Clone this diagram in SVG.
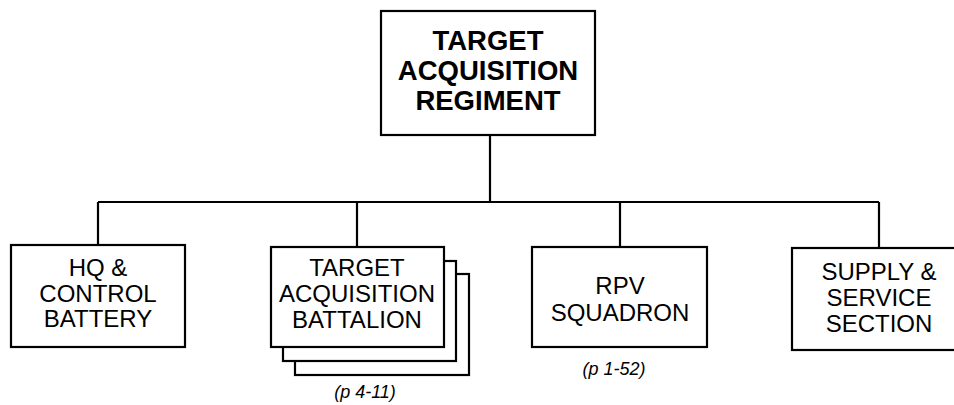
<svg xmlns="http://www.w3.org/2000/svg" width="954" height="405" viewBox="0 0 954 405">
<style>
  .box { fill: #ffffff; stroke: #000000; stroke-width: 2.2; }
  .conn { fill: none; stroke: #000000; stroke-width: 2.2; }
  .t { font-family: "Liberation Sans", Arial, sans-serif; font-size: 24px; fill: #000000; text-anchor: middle; }
  .tb { font-family: "Liberation Sans", Arial, sans-serif; font-size: 27.5px; font-weight: bold; fill: #000000; text-anchor: middle; }
  .ref { font-family: "Liberation Sans", Arial, sans-serif; font-size: 18px; font-style: italic; fill: #000000; text-anchor: middle; }
</style>
<rect width="954" height="405" fill="#ffffff"/>
<g id="connectors">
  <path class="conn" d="M490,135 V202 M98,202 H879 M98,202 V245 M357,202 V247 M620,202 V247 M879,202 V248"/>
</g>
<g id="regiment">
  <rect class="box" x="381" y="11" width="214" height="124"/>
  <text class="tb" x="488" y="50">TARGET</text>
  <text class="tb" x="488" y="80">ACQUISITION</text>
  <text class="tb" x="488" y="110">REGIMENT</text>
</g>
<g id="hq">
  <rect class="box" x="11" y="245" width="174" height="102"/>
  <text class="t" x="98" y="276">HQ &amp;</text>
  <text class="t" x="98" y="302">CONTROL</text>
  <text class="t" x="98" y="327">BATTERY</text>
</g>
<g id="battalion">
  <rect class="box" x="295" y="274" width="174" height="101"/>
  <rect class="box" x="283" y="261" width="173" height="100"/>
  <rect class="box" x="271" y="247" width="173" height="100"/>
  <text class="t" x="357" y="276">TARGET</text>
  <text class="t" x="357" y="302">ACQUISITION</text>
  <text class="t" x="357" y="328">BATTALION</text>
  <text class="ref" x="365" y="398">(p 4-11)</text>
</g>
<g id="rpv">
  <rect class="box" x="532" y="247" width="175" height="100"/>
  <text class="t" x="620" y="294">RPV</text>
  <text class="t" x="620" y="321">SQUADRON</text>
  <text class="ref" x="614" y="375">(p 1-52)</text>
</g>
<g id="supply">
  <rect class="box" x="792" y="248" width="165" height="102"/>
  <text class="t" x="879" y="280">SUPPLY &amp;</text>
  <text class="t" x="879" y="306">SERVICE</text>
  <text class="t" x="879" y="332">SECTION</text>
</g>
</svg>
